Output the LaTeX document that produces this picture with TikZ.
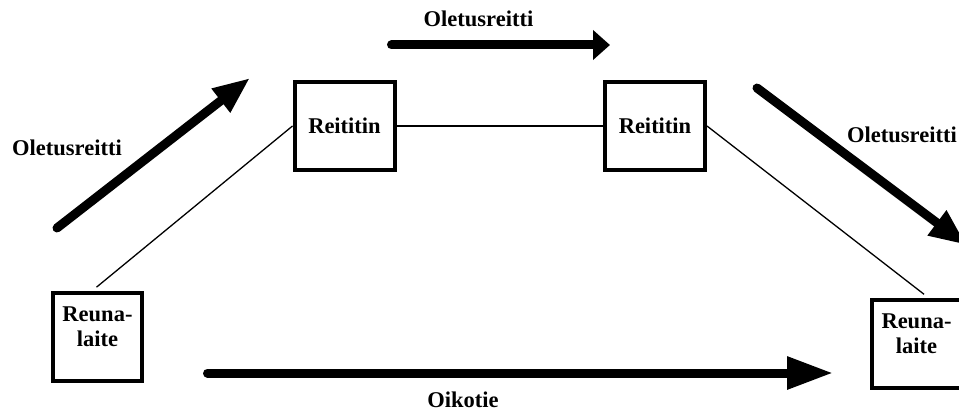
\documentclass[tikz,border=0pt]{standalone}
\usepackage{fontspec}
\setmainfont{Liberation Serif}
\usetikzlibrary{arrows.meta}

\begin{document}
\begin{tikzpicture}[x=1pt, y=-1pt,
    every node/.style={font=\fontsize{22.5}{25}\selectfont\bfseries},
    router/.style={rectangle, draw, line width=4pt, minimum width=100pt,
                   minimum height=88pt, inner sep=0pt},
    device/.style={rectangle, draw, line width=4pt, minimum width=89pt,
                   inner sep=0pt, align=center, text height=53pt, text depth=35pt},
    tag/.style={inner sep=0pt},
    link/.style={line width=1.3pt},
    route/.style={line width=9pt, line cap=round}
  ]
  \useasboundingbox (0,0) rectangle (959,412);

  \node[device, anchor=north] (lrn) at (97.5,291) {Reuna-\\laite};
  \node[device, anchor=north] (rrn) at (916.5,298) {Reuna-\\laite};
  \node[router] (r1) at (344.5,126) {Reititin};
  \node[router] (r2) at (655,126) {Reititin};

  \draw[link, shorten <=6pt] (lrn.97) -- (r1.west);
  \draw[link] (r1.east) -- (r2.west);
  \draw[link, shorten >=6pt] (r2.east) -- (rrn.75);

  \coordinate (p1s) at (57,228);
  \coordinate (p1e) at (250,78);
  \coordinate (p2s) at (391.5,45);
  \coordinate (p2e) at (610,45);
  \coordinate (p3s) at (757,88);
  \coordinate (p3e) at (966.5,245);
  \coordinate (p4s) at (207.5,373);
  \coordinate (p4e) at (833,373);

  \draw[route, -{Triangle[length=37pt, width=28pt]}] (p1s) -- (p1e);
  \draw[route, -{Triangle[length=17pt, width=29pt]}] (p2s) -- (p2e);
  \draw[route, -{Triangle[length=37pt, width=29pt]}] (p3s) -- (p3e);
  \draw[route, -{Triangle[length=46pt, width=31pt]}] (p4s) -- (p4e);

  \node[tag, anchor=base] (t1) at (67,155) {Oletusreitti};
  \node[tag, anchor=base] (t2) at (478.5,27) {Oletusreitti};
  \node[tag, anchor=base west] (t3) at (847,142) {Oletusreitti};
  \node[tag, anchor=base] (t4) at (463,407) {Oikotie};
\end{tikzpicture}
\end{document}
